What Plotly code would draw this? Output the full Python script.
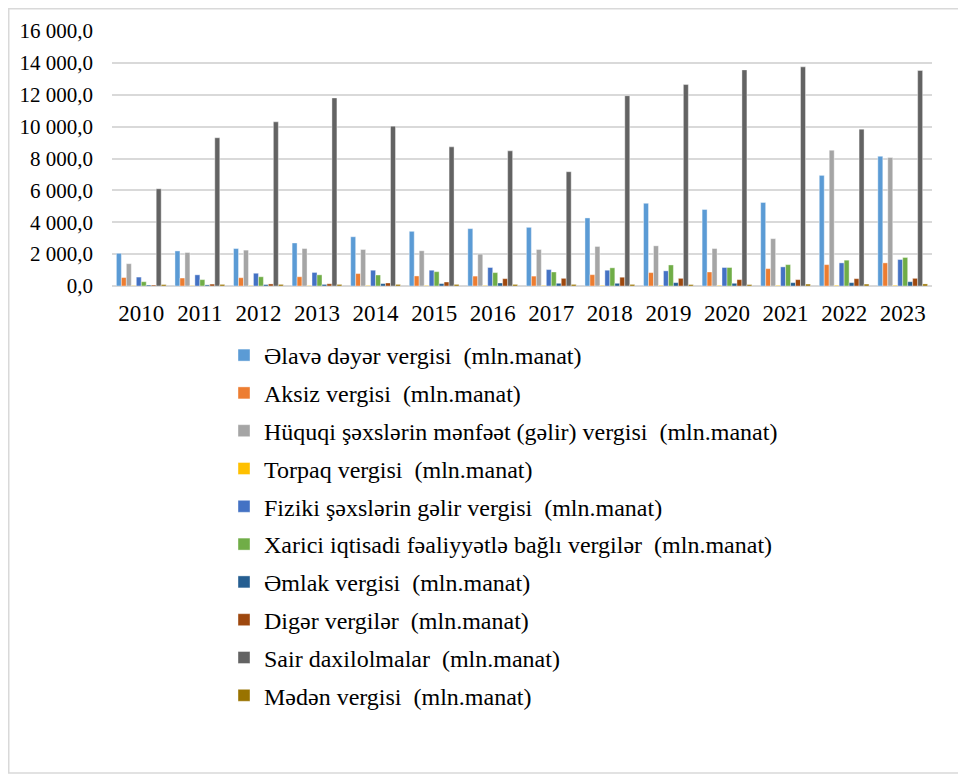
import plotly.graph_objects as go

years = ["2010", "2011", "2012", "2013", "2014", "2015", "2016", "2017", "2018", "2019", "2020", "2021", "2022", "2023"]

series_names = [
    "Əlavə dəyər vergisi  (mln.manat)",
    "Aksiz vergisi  (mln.manat)",
    "Hüquqi şəxslərin mənfəət (gəlir) vergisi  (mln.manat)",
    "Torpaq vergisi  (mln.manat)",
    "Fiziki şəxslərin gəlir vergisi  (mln.manat)",
    "Xarici iqtisadi fəaliyyətlə bağlı vergilər  (mln.manat)",
    "Əmlak vergisi  (mln.manat)",
    "Digər vergilər  (mln.manat)",
    "Sair daxilolmalar  (mln.manat)",
    "Mədən vergisi  (mln.manat)",
]

edv = [2050, 2200, 2350, 2700, 3090, 3430, 3600, 3680, 4270, 5190, 4800, 5240, 6940, 8140]
aksiz = [530, 500, 520, 580, 780, 630, 620, 620, 710, 840, 880, 1090, 1340, 1450]
huquqi = [1400, 2100, 2250, 2350, 2290, 2210, 2000, 2290, 2480, 2520, 2350, 2970, 8520, 8060]
torpaq = [25, 25, 30, 30, 35, 35, 35, 35, 40, 40, 40, 40, 45, 45]
fiziki = [560, 700, 800, 850, 990, 990, 1160, 1030, 990, 950, 1160, 1200, 1450, 1660]
xarici = [270, 400, 580, 700, 690, 900, 840, 880, 1140, 1320, 1160, 1340, 1620, 1790]
emlak = [60, 70, 90, 100, 150, 150, 190, 170, 170, 210, 170, 210, 210, 270]
diger = [60, 120, 130, 140, 190, 250, 460, 480, 550, 480, 400, 400, 460, 480]
sair = [6100, 9300, 10300, 11800, 10030, 8730, 8480, 7170, 11940, 12640, 13560, 13750, 9840, 13520]
meden = [90, 100, 100, 100, 100, 100, 100, 100, 100, 90, 90, 120, 120, 130]

all_values = [edv, aksiz, huquqi, torpaq, fiziki, xarici, emlak, diger, sair, meden]
colors = ["#5B9BD5", "#ED7D31", "#A5A5A5", "#FFC000", "#4472C4",
          "#70AD47", "#255E91", "#9E480E", "#636363", "#997300"]

fig = go.Figure()
for i, (name, vals, col) in enumerate(zip(series_names, all_values, colors)):
    fig.add_trace(go.Bar(
        x=years, y=vals,
        name=name.replace("  (", " \u00a0("),
        marker=dict(color=col, line=dict(color="white", width=0.4)),
        legendgroup=str(i),
    ))

# page has an 8px body margin, so figure coords = screen coords - 8
OFF = 8
W, H = 966 - OFF, 776 - OFF
L, R, T, B = 112 - OFF, 34, 31 - OFF, (776 - OFF) - (286 - OFF)
pw = W - L - R
ph = H - T - B

def px_x(x):
    return (x - OFF - L) / pw

def px_y(y):
    return (H - B - (y - OFF)) / ph

fig.update_layout(
    width=W, height=H,
    margin=dict(l=L, r=R, t=T, b=B, autoexpand=False),
    paper_bgcolor="white",
    plot_bgcolor="white",
    font=dict(family="Liberation Serif", color="#000000", size=21),
    barmode="group",
    bargap=0.15,
    bargroupgap=0.0,
    separators=", ",
    showlegend=True,
    legend=dict(
        x=px_x(224), y=px_y(333), xanchor="left", yanchor="top",
        font=dict(family="Liberation Serif", size=24, color="#000000"),
        traceorder="grouped",
        tracegroupgap=3.6,
        itemwidth=30,
        maxheight=1000,
        bgcolor="rgba(0,0,0,0)",
    ),
    xaxis=dict(
        showgrid=False, showline=False, ticks="",
        tickfont=dict(family="Liberation Serif", size=23),
        ticklabelstandoff=11,
    ),
    yaxis=dict(
        range=[0, 16000], dtick=2000,
        tickformat=",.1f",
        showgrid=True, gridcolor="#D9D9D9", gridwidth=1.5,
        zeroline=True, zerolinecolor="#D9D9D9", zerolinewidth=1.5,
        showline=False, ticks="",
        tickfont=dict(family="Liberation Serif", size=21),
        ticklabelstandoff=18,
    ),
    shapes=[dict(
        type="rect", xref="paper", yref="paper",
        x0=px_x(OFF + 0.75), x1=px_x(963), y0=px_y(773), y1=px_y(OFF + 0.75),
        line=dict(color="#D9D9D9", width=1.5), fillcolor="rgba(0,0,0,0)", layer="below",
    )],
)

fig.write_html("out.html")
